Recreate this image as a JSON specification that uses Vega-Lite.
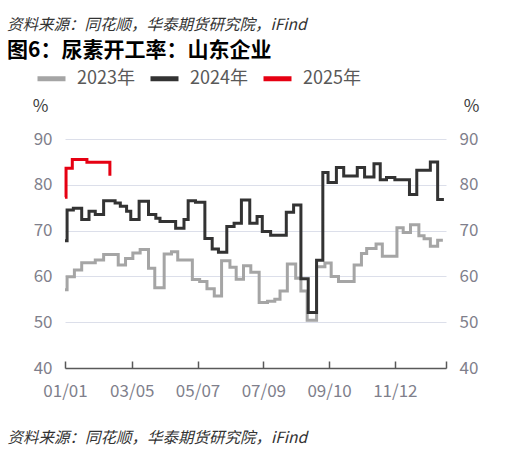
{
  "$schema": "https://vega.github.io/schema/vega-lite/v6.json",
  "width": 381,
  "height": 229,
  "autosize": "none",
  "padding": {"left": 65, "top": 139, "right": 73, "bottom": 85},
  "background": "white",
  "config": {
    "font": "Noto Sans CJK SC",
    "view": {"stroke": null}
  },
  "title": {
    "text": "资料来源：同花顺，华泰期货研究院，iFind",
    "subtitle": "图6：尿素开工率：山东企业",
    "anchor": "start",
    "frame": "group",
    "dx": -58,
    "offset": 1,
    "font": "Noto Sans CJK SC",
    "fontSize": 15.5,
    "fontStyle": "italic",
    "fontWeight": "normal",
    "color": "#333333",
    "subtitleFont": "Noto Sans CJK SC",
    "subtitleFontSize": 21,
    "subtitleFontWeight": "bold",
    "subtitleColor": "#000000",
    "subtitlePadding": 7
  },
  "data": {
    "values": [
      {"s": "2023年", "date": "2023-01-01", "v": 57.1},
      {"s": "2023年", "date": "2023-01-03", "v": 59.9},
      {"s": "2023年", "date": "2023-01-10", "v": 61.4},
      {"s": "2023年", "date": "2023-01-17", "v": 63.0},
      {"s": "2023年", "date": "2023-01-30", "v": 63.6},
      {"s": "2023年", "date": "2023-02-07", "v": 64.8},
      {"s": "2023年", "date": "2023-02-21", "v": 62.5},
      {"s": "2023年", "date": "2023-02-28", "v": 63.9},
      {"s": "2023年", "date": "2023-03-06", "v": 65.1},
      {"s": "2023年", "date": "2023-03-13", "v": 65.9},
      {"s": "2023年", "date": "2023-03-21", "v": 61.8},
      {"s": "2023年", "date": "2023-03-27", "v": 57.5},
      {"s": "2023年", "date": "2023-04-05", "v": 64.9},
      {"s": "2023年", "date": "2023-04-12", "v": 65.4},
      {"s": "2023年", "date": "2023-04-18", "v": 63.6},
      {"s": "2023年", "date": "2023-05-02", "v": 59.3},
      {"s": "2023年", "date": "2023-05-09", "v": 58.9},
      {"s": "2023年", "date": "2023-05-16", "v": 57.3},
      {"s": "2023年", "date": "2023-05-23", "v": 55.7},
      {"s": "2023年", "date": "2023-05-30", "v": 63.4},
      {"s": "2023年", "date": "2023-06-07", "v": 62.0},
      {"s": "2023年", "date": "2023-06-13", "v": 59.4},
      {"s": "2023年", "date": "2023-06-20", "v": 62.3},
      {"s": "2023年", "date": "2023-06-27", "v": 60.9},
      {"s": "2023年", "date": "2023-07-05", "v": 54.3},
      {"s": "2023年", "date": "2023-07-13", "v": 54.6},
      {"s": "2023年", "date": "2023-07-20", "v": 55.0},
      {"s": "2023年", "date": "2023-07-25", "v": 56.8},
      {"s": "2023年", "date": "2023-08-01", "v": 62.7},
      {"s": "2023年", "date": "2023-08-09", "v": 59.6},
      {"s": "2023年", "date": "2023-08-14", "v": 56.8},
      {"s": "2023年", "date": "2023-08-20", "v": 50.4},
      {"s": "2023年", "date": "2023-08-29", "v": 62.1},
      {"s": "2023年", "date": "2023-09-06", "v": 62.9},
      {"s": "2023年", "date": "2023-09-12", "v": 60.0},
      {"s": "2023年", "date": "2023-09-19", "v": 58.9},
      {"s": "2023年", "date": "2023-10-04", "v": 62.5},
      {"s": "2023年", "date": "2023-10-11", "v": 65.0},
      {"s": "2023年", "date": "2023-10-16", "v": 66.1},
      {"s": "2023年", "date": "2023-10-25", "v": 67.1},
      {"s": "2023年", "date": "2023-10-31", "v": 64.4},
      {"s": "2023年", "date": "2023-11-14", "v": 70.6},
      {"s": "2023年", "date": "2023-11-20", "v": 69.6},
      {"s": "2023年", "date": "2023-11-27", "v": 71.3},
      {"s": "2023年", "date": "2023-12-05", "v": 68.9},
      {"s": "2023年", "date": "2023-12-10", "v": 68.2},
      {"s": "2023年", "date": "2023-12-16", "v": 66.6},
      {"s": "2023年", "date": "2023-12-23", "v": 67.9},
      {"s": "2023年", "date": "2023-12-28", "v": 67.9},
      {"s": "2024年", "date": "2024-01-01", "v": 67.8},
      {"s": "2024年", "date": "2024-01-03", "v": 74.5},
      {"s": "2024年", "date": "2024-01-09", "v": 74.9},
      {"s": "2024年", "date": "2024-01-17", "v": 72.4},
      {"s": "2024年", "date": "2024-01-24", "v": 74.2},
      {"s": "2024年", "date": "2024-01-30", "v": 73.5},
      {"s": "2024年", "date": "2024-02-07", "v": 76.5},
      {"s": "2024年", "date": "2024-02-18", "v": 76.0},
      {"s": "2024年", "date": "2024-02-23", "v": 75.3},
      {"s": "2024年", "date": "2024-02-29", "v": 74.2},
      {"s": "2024年", "date": "2024-03-04", "v": 72.4},
      {"s": "2024年", "date": "2024-03-12", "v": 76.4},
      {"s": "2024年", "date": "2024-03-21", "v": 73.5},
      {"s": "2024年", "date": "2024-03-28", "v": 72.7},
      {"s": "2024年", "date": "2024-04-01", "v": 72.0},
      {"s": "2024年", "date": "2024-04-16", "v": 70.5},
      {"s": "2024年", "date": "2024-04-24", "v": 72.4},
      {"s": "2024年", "date": "2024-04-28", "v": 76.5},
      {"s": "2024年", "date": "2024-05-05", "v": 76.2},
      {"s": "2024年", "date": "2024-05-14", "v": 68.3},
      {"s": "2024年", "date": "2024-05-21", "v": 66.0},
      {"s": "2024年", "date": "2024-05-27", "v": 65.3},
      {"s": "2024年", "date": "2024-06-04", "v": 70.9},
      {"s": "2024年", "date": "2024-06-11", "v": 71.6},
      {"s": "2024年", "date": "2024-06-18", "v": 76.7},
      {"s": "2024年", "date": "2024-06-26", "v": 71.6},
      {"s": "2024年", "date": "2024-07-03", "v": 73.1},
      {"s": "2024年", "date": "2024-07-08", "v": 69.8},
      {"s": "2024年", "date": "2024-07-16", "v": 69.0},
      {"s": "2024年", "date": "2024-07-31", "v": 74.0},
      {"s": "2024年", "date": "2024-08-07", "v": 75.6},
      {"s": "2024年", "date": "2024-08-14", "v": 59.5},
      {"s": "2024年", "date": "2024-08-21", "v": 52.1},
      {"s": "2024年", "date": "2024-08-29", "v": 63.5},
      {"s": "2024年", "date": "2024-09-04", "v": 82.7},
      {"s": "2024年", "date": "2024-09-09", "v": 80.5},
      {"s": "2024年", "date": "2024-09-17", "v": 83.8},
      {"s": "2024年", "date": "2024-09-24", "v": 81.9},
      {"s": "2024年", "date": "2024-10-07", "v": 83.8},
      {"s": "2024年", "date": "2024-10-14", "v": 81.7},
      {"s": "2024年", "date": "2024-10-23", "v": 84.6},
      {"s": "2024年", "date": "2024-10-29", "v": 81.1},
      {"s": "2024年", "date": "2024-11-04", "v": 81.6},
      {"s": "2024年", "date": "2024-11-12", "v": 81.1},
      {"s": "2024年", "date": "2024-11-26", "v": 77.9},
      {"s": "2024年", "date": "2024-12-03", "v": 83.2},
      {"s": "2024年", "date": "2024-12-16", "v": 85.0},
      {"s": "2024年", "date": "2024-12-23", "v": 76.8},
      {"s": "2024年", "date": "2024-12-29", "v": 76.8},
      {"s": "2025年", "date": "2025-01-01", "v": 77.3},
      {"s": "2025年", "date": "2025-01-02", "v": 83.6},
      {"s": "2025年", "date": "2025-01-08", "v": 85.5},
      {"s": "2025年", "date": "2025-01-22", "v": 84.9},
      {"s": "2025年", "date": "2025-02-13", "v": 82.0}
    ]
  },
  "encoding": {
    "x": {
      "field": "date",
      "type": "temporal",
      "timeUnit": "utcmonthdate",
      "scale": {
        "domain": [
          {"year": 2012, "month": 1, "date": 1, "utc": true},
          {"year": 2012, "month": 12, "date": 31, "utc": true}
        ]
      },
      "axis": {
        "values": [
          {"year": 2012, "month": 1, "date": 1, "utc": true},
          {"year": 2012, "month": 3, "date": 5, "utc": true},
          {"year": 2012, "month": 5, "date": 7, "utc": true},
          {"year": 2012, "month": 7, "date": 9, "utc": true},
          {"year": 2012, "month": 9, "date": 10, "utc": true},
          {"year": 2012, "month": 11, "date": 12, "utc": true},
          {"year": 2012, "month": 12, "date": 31, "utc": true}
        ],
        "labelExpr": "utcmonth(datum.value) == 11 ? '' : utcFormat(datum.value, '%m/%d')",
        "labelOverlap": false,
        "labelBound": false,
        "labelFlush": false,
        "grid": false,
        "domainColor": "#595959",
        "domainWidth": 1.5,
        "tickColor": "#595959",
        "tickWidth": 1.5,
        "tickSize": -7,
        "labelPadding": 22,
        "labelFont": "Noto Sans CJK SC",
        "labelFontSize": 17,
        "labelColor": "#7f7f8c",
        "title": "资料来源：同花顺，华泰期货研究院，iFind",
        "titleX": -58,
        "titleY": 69,
        "titleAlign": "left",
        "titleBaseline": "middle",
        "titleFont": "Noto Sans CJK SC",
        "titleFontSize": 15.5,
        "titleFontStyle": "italic",
        "titleFontWeight": "normal",
        "titleColor": "#333333"
      }
    },
    "y": {
      "field": "v",
      "type": "quantitative",
      "scale": {"domain": [40, 90]}
    },
    "color": {
      "field": "s",
      "type": "nominal",
      "scale": {
        "domain": ["2023年", "2024年", "2025年"],
        "range": ["#a5a5a5", "#333333", "#e60012"]
      },
      "legend": {
        "orient": "none",
        "legendX": -30,
        "legendY": -77,
        "direction": "horizontal",
        "title": null,
        "symbolType": "stroke",
        "symbolStrokeWidth": 5,
        "symbolSize": 784,
        "labelFont": "Noto Sans CJK SC",
        "labelFontSize": 18,
        "labelColor": "#595959",
        "labelOffset": 9,
        "columnPadding": 5
      }
    }
  },
  "layer": [
    {
      "transform": [{"filter": "datum.s != '2025年'"}],
      "mark": {"type": "line", "interpolate": "step-after", "strokeWidth": 3},
      "encoding": {
        "y": {
          "field": "v",
          "type": "quantitative",
          "axis": {
            "orient": "left",
            "values": [40, 50, 60, 70, 80, 90],
            "grid": true,
            "gridColor": "#dcdfea",
            "gridWidth": 1,
            "domain": false,
            "ticks": false,
            "labelPadding": 13,
            "labelFont": "Noto Sans CJK SC",
            "labelFontSize": 17,
            "labelColor": "#7f7f8c",
            "title": "%",
            "titleAngle": 0,
            "titleX": -25,
            "titleY": -33,
            "titleAlign": "center",
            "titleBaseline": "middle",
            "titleFont": "Noto Sans CJK SC",
            "titleFontSize": 17,
            "titleFontWeight": "normal",
            "titleColor": "#404040"
          }
        }
      }
    },
    {
      "transform": [{"filter": "datum.s == '2025年'"}],
      "mark": {"type": "line", "interpolate": "step-after", "strokeWidth": 3},
      "encoding": {
        "y": {
          "field": "v",
          "type": "quantitative",
          "axis": {
            "orient": "right",
            "values": [40, 50, 60, 70, 80, 90],
            "grid": false,
            "domain": false,
            "ticks": false,
            "labelPadding": 13,
            "labelFont": "Noto Sans CJK SC",
            "labelFontSize": 17,
            "labelColor": "#7f7f8c",
            "title": "%",
            "titleAngle": 0,
            "titleX": 25,
            "titleY": -33,
            "titleAlign": "center",
            "titleBaseline": "middle",
            "titleFont": "Noto Sans CJK SC",
            "titleFontSize": 17,
            "titleFontWeight": "normal",
            "titleColor": "#404040"
          }
        }
      }
    }
  ],
  "resolve": {"axis": {"y": "independent"}}
}
